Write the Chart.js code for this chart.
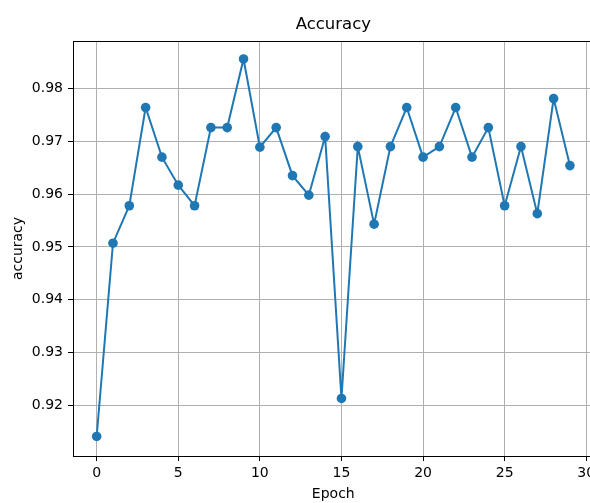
<!DOCTYPE html>
<html>
<head>
<meta charset="utf-8">
<script src="https://cdn.jsdelivr.net/npm/chart.js@4"></script>
<style>
  html, body { margin: 0; padding: 0; background: #fff; overflow: hidden; }
  #wrap { position: relative; width: 590px; height: 503px; overflow: hidden; }
  #accuracy-chart { position: absolute; left: 0; top: 0; }
</style>
</head>
<body>
<div id="wrap"><canvas id="accuracy-chart" width="600" height="503"></canvas></div>
<script>
// Accuracy per epoch
const epochs = [0, 1, 2, 3, 4, 5, 6, 7, 8, 9, 10, 11, 12, 13, 14, 15, 16, 17, 18, 19, 20, 21, 22, 23, 24, 25, 26, 27, 28, 29];
const accuracy = [0.9141, 0.9507, 0.9578, 0.9764, 0.9670, 0.9617, 0.9578, 0.9726, 0.9726, 0.9856,
  0.9689, 0.9726, 0.9635, 0.9598, 0.9709, 0.9213, 0.9690, 0.9543, 0.9690, 0.9764,
  0.9670, 0.9690, 0.9764, 0.9670, 0.9726, 0.9578, 0.9690, 0.9563, 0.9781, 0.9654];
const xTicks = [0, 5, 10, 15, 20, 25, 30];
const yTicks = [0.92, 0.93, 0.94, 0.95, 0.96, 0.97, 0.98];

Chart.defaults.color = "#000";
Chart.defaults.font.family = "'DejaVu Sans', sans-serif";
Chart.defaults.font.size = 14;

// matplotlib draws the whole box round the axes
const frame = {
  id: "frame",
  afterDraw(chart) {
    const { ctx, chartArea: a } = chart;
    ctx.save();
    ctx.strokeStyle = "#000";
    ctx.lineWidth = 1;
    ctx.strokeRect(Math.round(a.left) + 0.5, Math.round(a.top) + 0.5, a.right - a.left, a.bottom - a.top);
    ctx.restore();
  },
};

const ctx = document.getElementById("accuracy-chart").getContext("2d");
new Chart(ctx, {
  type: "line",
  data: {
    datasets: [{
      data: epochs.map((e, i) => ({ x: e, y: accuracy[i] })),
      borderColor: "#1f77b4",
      backgroundColor: "#1f77b4",
      borderWidth: 2,
      pointRadius: 4.8,
      pointBorderWidth: 0,
      tension: 0,
    }],
  },
  options: {
    responsive: false,
    animation: false,
    devicePixelRatio: 1,
    layout: { padding: { left: 0, right: 6.4, top: 0, bottom: 0 } },
    plugins: {
      legend: { display: false },
      tooltip: { enabled: false },
      title: {
        display: true,
        text: "Accuracy",
        fullSize: false,
        font: { size: 16.5, weight: "normal" },
        padding: { top: 14.5, bottom: 6.7 },
      },
    },
    scales: {
      x: {
        type: "linear",
        min: -1.45,
        max: 30.45,
        afterBuildTicks: (s) => { s.ticks = xTicks.map((v) => ({ value: v })); },
        afterFit: (s) => { s.height = 47; },
        ticks: { padding: 4, maxRotation: 0, callback: (v) => String(v) },
        grid: { color: "#b0b0b0", lineWidth: 1, tickColor: "#000", tickLength: 5 },
        border: { display: true, color: "#000", width: 1 },
        title: { display: true, text: "Epoch", padding: { top: 0, bottom: 0 } },
      },
      y: {
        min: 0.9104,
        max: 0.9890,
        afterBuildTicks: (s) => { s.ticks = yTicks.map((v) => ({ value: v })); },
        afterFit: (s) => { s.width = 73; },
        ticks: { padding: 5, callback: (v) => v.toFixed(2) },
        grid: { color: "#b0b0b0", lineWidth: 1, tickColor: "#000", tickLength: 5 },
        border: { display: true, color: "#000", width: 1 },
        title: { display: true, text: "accuracy", padding: { top: 9.6, bottom: 0 } },
      },
    },
  },
  plugins: [frame],
});
</script>
</body>
</html>
